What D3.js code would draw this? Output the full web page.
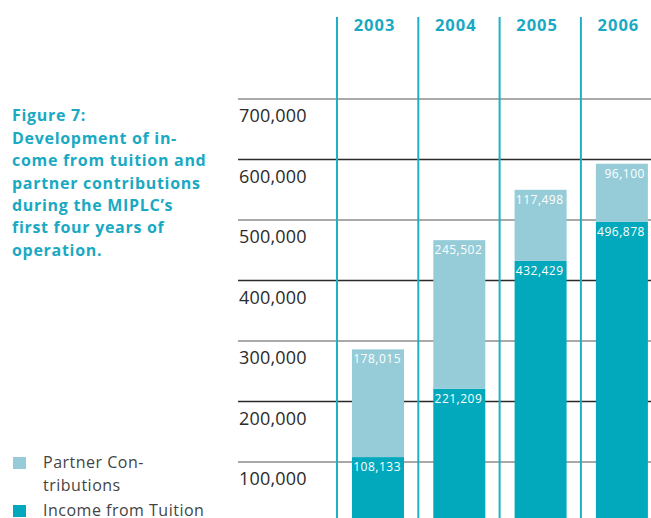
<!DOCTYPE html>
<html>
<head>
<meta charset="utf-8">
<script src="https://cdn.jsdelivr.net/npm/d3@7"></script>
<style>
  html, body { margin: 0; padding: 0; background: #fff; }
  svg { display: block; }
</style>
</head>
<body>
<svg id="chart" width="651" height="518"></svg>
<script>
// ---- data ----
const years = ["2003", "2004", "2005", "2006"];
const tuition = [108133, 221209, 432429, 496878];
const partner = [178015, 245502, 117498, 96100];
const yTicks = [100000, 200000, 300000, 400000, 500000, 600000, 700000];
const seriesNames = ["Income from Tuition", "Partner Contributions"];
const titleLines = ["Figure 7:", "Development of in-", "come from tuition and", "partner contributions", "during the MIPLC\u2019s", "first four years of", "operation."];
const legendItems = [
  { key: "partner", lines: ["Partner Con-", "tributions"] },
  { key: "tuition", lines: ["Income from Tuition"] }
];

const colors = { tuition: "#02a9bc", partner: "#95ccd8" };
const teal = "#1aa9c3";
const font = "'Open Sans', 'DejaVu Sans', sans-serif";

const svg = d3.select("#chart");

const x = d3.scaleBand().domain(years).range([337, 337 + 4 * 81.3]).paddingInner(0).paddingOuter(0);
const y = d3.scaleLinear().domain([0, 700000]).range([522.5, 99]);

// gridlines
const grid = svg.append("g");
grid.selectAll("line").data(yTicks).join("line")
  .attr("x1", 238).attr("x2", 651)
  .attr("y1", d => y(d)).attr("y2", d => y(d))
  .attr("stroke", d => (d / 100000) % 2 === 0 ? "#2a2a2a" : "#8c8c8c")
  .attr("stroke-width", 1.3);

// tick labels
svg.append("g").selectAll("text").data(yTicks).join("text")
  .attr("x", 239).attr("y", d => y(d) + 23)
  .attr("font-family", font).attr("font-size", 18).attr("letter-spacing", 0.2)
  .attr("fill", "#2b2b2b")
  .text(d => d3.format(",")(d));

// vertical separators
svg.append("g").selectAll("line").data(years).join("line")
  .attr("x1", d => x(d)).attr("x2", d => x(d))
  .attr("y1", 17).attr("y2", 518)
  .attr("stroke", "#1fb0c5").attr("stroke-width", 2);

// year labels
svg.append("g").selectAll("text").data(years).join("text")
  .attr("x", d => x(d) + 37.5).attr("y", 31)
  .attr("text-anchor", "middle")
  .attr("font-family", font).attr("font-size", 16.5).attr("font-weight", "bold")
  .attr("letter-spacing", 1)
  .attr("fill", teal)
  .text(d => d);

// stacked bars
const table = years.map((yr, i) => ({ year: yr, tuition: tuition[i], partner: partner[i] }));
const stack = d3.stack().keys(["tuition", "partner"]);
const layers = stack(table);

const barOffset = 15, barW = 52;
const lg = svg.append("g").selectAll("g").data(layers).join("g")
  .attr("fill", d => colors[d.key]);
lg.selectAll("rect").data(d => d).join("rect")
  .attr("x", d => x(d.data.year) + barOffset)
  .attr("width", barW)
  .attr("y", d => y(d[1]))
  .attr("height", d => y(d[0]) - y(d[1]));

// value labels
lg.selectAll("text").data(d => d.map(v => ({ v, key: d.key }))).join("text")
  .attr("x", d => x(d.v.data.year) + barOffset + barW - 3)
  .attr("y", d => y(d.v[1]) + 14)
  .attr("text-anchor", "end")
  .attr("font-family", font).attr("font-size", 12).attr("letter-spacing", 0.5)
  .attr("fill", "#ffffff")
  .text(d => d3.format(",")(d.v.data[d.key]));

// title
svg.append("g").selectAll("text").data(titleLines).join("text")
  .attr("x", 12).attr("y", (d, i) => i === 0 ? 121 : 144 + (i - 1) * 22.3)
  .attr("font-family", font).attr("font-size", 16).attr("font-weight", "bold")
  .attr("letter-spacing", 0.7)
  .attr("fill", teal)
  .text(d => d);

// legend
const leg = svg.append("g");
const legY = [457, 505];
legendItems.forEach((it, i) => {
  leg.append("rect").attr("x", 13).attr("y", legY[i]).attr("width", 13).attr("height", 12)
    .attr("fill", colors[it.key]);
  it.lines.forEach((ln, j) => {
    leg.append("text").attr("x", 43).attr("y", legY[i] + 11 + j * 23)
      .attr("font-family", font).attr("font-size", 16).attr("letter-spacing", 0.5)
      .attr("fill", "#444")
      .text(ln);
  });
});
</script>
</body>
</html>
